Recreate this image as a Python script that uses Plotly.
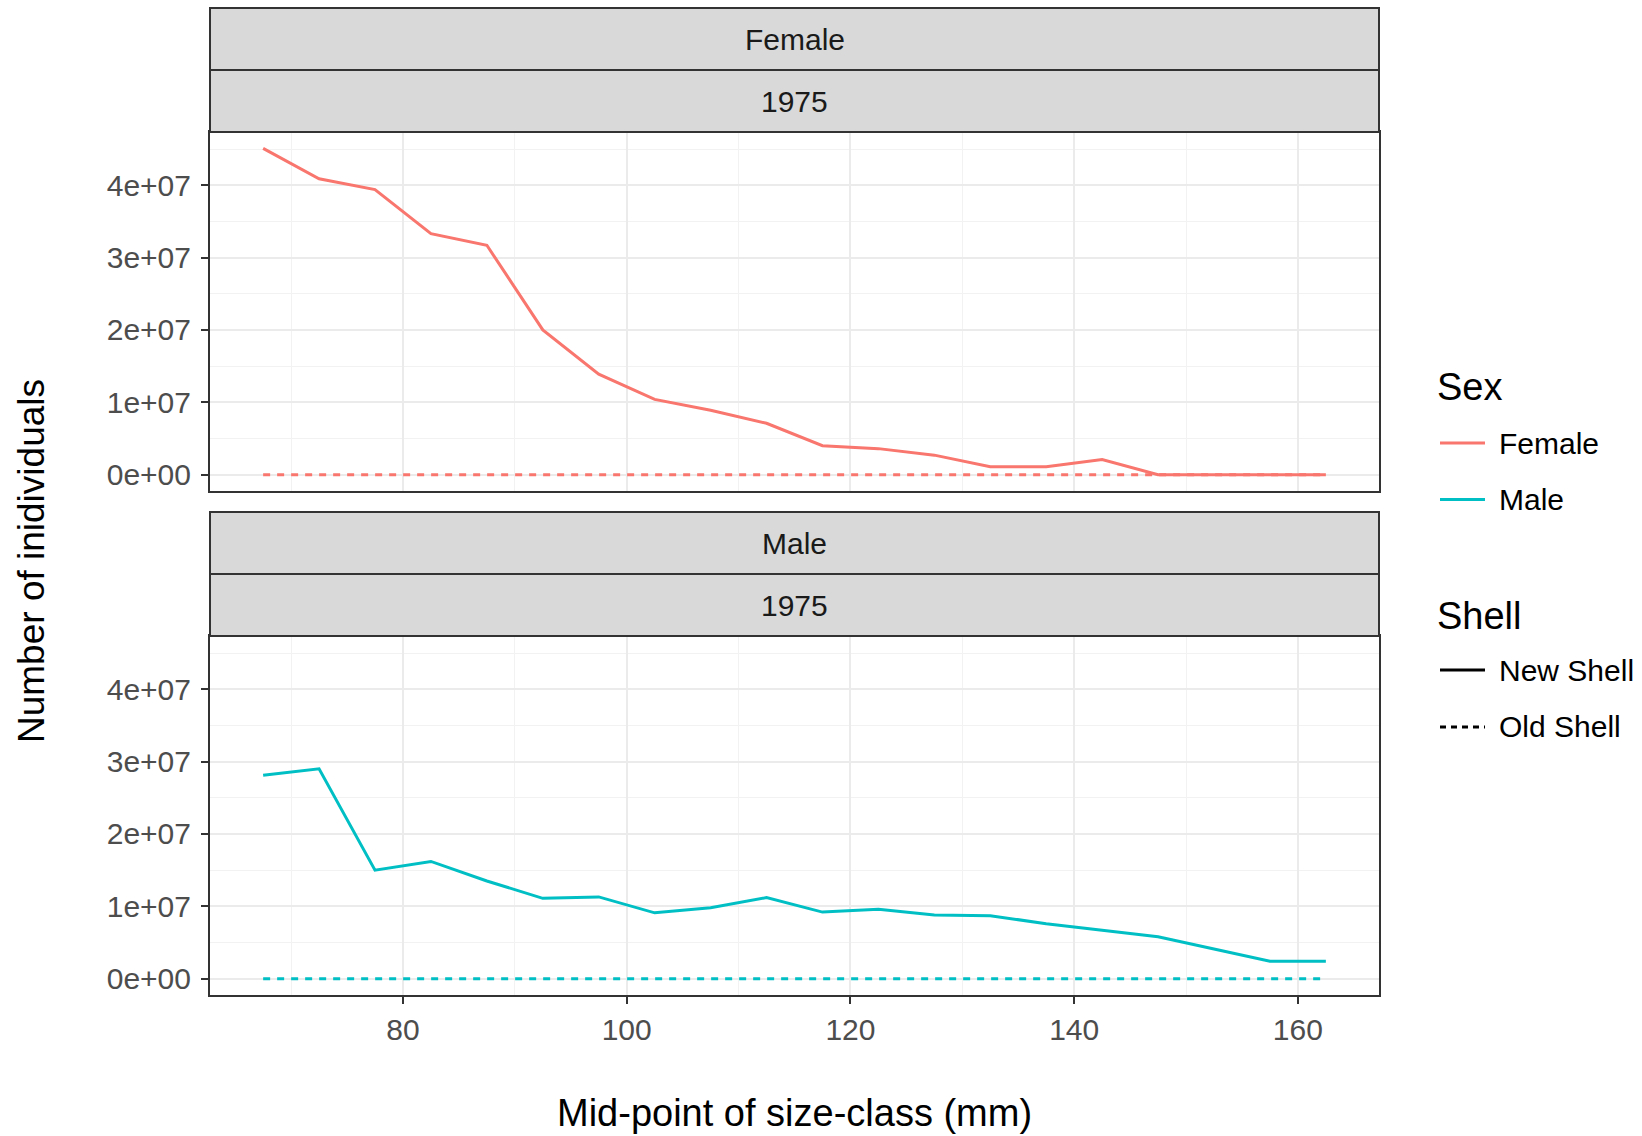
import plotly.graph_objects as go

# ---- data ----
size_mid = [67.5, 72.5, 77.5, 82.5, 87.5, 92.5, 97.5, 102.5, 107.5, 112.5,
            117.5, 122.5, 127.5, 132.5, 137.5, 142.5, 147.5, 152.5, 157.5, 162.5]
female_new = [4.51e7, 4.09e7, 3.94e7, 3.33e7, 3.17e7, 2.00e7, 1.39e7, 1.04e7, 0.89e7, 0.71e7,
              0.40e7, 0.36e7, 0.27e7, 0.11e7, 0.11e7, 0.21e7, 0.0, 0.0, 0.0, 0.0]
female_old = [0.0] * 20
male_new = [2.81e7, 2.90e7, 1.50e7, 1.62e7, 1.35e7, 1.11e7, 1.13e7, 0.91e7, 0.98e7, 1.12e7,
            0.92e7, 0.96e7, 0.88e7, 0.87e7, 0.76e7, 0.67e7, 0.58e7, 0.41e7, 0.24e7, 0.24e7]
male_old = [0.0] * 20
y_tickvals = [0, 1e7, 2e7, 3e7, 4e7]
y_ticktext = ["0e+00", "1e+07", "2e+07", "3e+07", "4e+07"]
x_tickvals = [80, 100, 120, 140, 160]
sexes = ["Female", "Male"]
year_label = "1975"
shells = ["New Shell", "Old Shell"]

COL = {"Female": "#F8766D", "Male": "#00BFC4"}
FONT = "Liberation Sans, Arial, Helvetica, sans-serif"

W, H = 1642, 1136
ML, MR, MT, MB = 210, 263, 8, 141
PW, PH = W - ML - MR, H - MT - MB


def px_to_py(y):
    return (H - MB - y) / PH


def px_to_px(x):
    return (x - ML) / PW


fig = go.Figure()

# top panel (Female) -> xaxis2/yaxis2, bottom panel (Male) -> xaxis/yaxis
panels = {"Female": ("x2", "y2", female_new, female_old),
          "Male": ("x", "y", male_new, male_old)}
for sex in sexes:
    xa, ya, new_vals, old_vals = panels[sex]
    fig.add_trace(go.Scatter(x=size_mid, y=old_vals, mode="lines", xaxis=xa, yaxis=ya,
                             line=dict(color=COL[sex], width=3, dash="7px,7px"),
                             showlegend=False, name=f"{sex} Old Shell"))
    fig.add_trace(go.Scatter(x=size_mid, y=new_vals, mode="lines", xaxis=xa, yaxis=ya,
                             line=dict(color=COL[sex], width=3),
                             showlegend=False, name=f"{sex} New Shell"))

yrange = [-2.255e6, 4.7355e7]
xrange = [62.75, 167.25]

common_x = dict(range=xrange, tickvals=x_tickvals, showgrid=True, gridcolor="#EBEBEB",
                gridwidth=2, zeroline=False, showline=True, linecolor="#333333",
                linewidth=2, mirror=True, ticklen=7, tickwidth=2,
                tickcolor="#333333",
                tickfont=dict(family=FONT, size=30, color="#4D4D4D"),
                minor=dict(dtick=10, tick0=0, showgrid=True, gridcolor="#F2F2F2", gridwidth=1))
common_y = dict(range=yrange, tickvals=y_tickvals, ticktext=y_ticktext, showgrid=True,
                gridcolor="#EBEBEB", gridwidth=2, zeroline=False, showline=True,
                linecolor="#333333", linewidth=2, mirror=True, ticks="outside",
                ticklen=7, tickwidth=2, tickcolor="#333333", ticklabelstandoff=4,
                tickfont=dict(family=FONT, size=30, color="#4D4D4D"),
                minor=dict(dtick=5e6, tick0=0, showgrid=True, gridcolor="#F2F2F2", gridwidth=1))

top_dom = [px_to_py(491), px_to_py(132)]
bot_dom = [0, px_to_py(636)]

fig.update_layout(
    width=W, height=H,
    margin=dict(l=ML, r=MR, t=MT, b=MB),
    paper_bgcolor="white", plot_bgcolor="white",
    font=dict(family=FONT, color="#000000"),
    xaxis=dict(domain=[0, 1], anchor="y", ticks="outside", **common_x),
    yaxis=dict(domain=bot_dom, anchor="x", **common_y),
    xaxis2=dict(domain=[0, 1], anchor="y2", ticks="", showticklabels=False, matches="x",
                **common_x),
    yaxis2=dict(domain=top_dom, anchor="x2", **common_y),
)

shapes = []
annotations = []

# facet strips
strips = [(8, 70, "Female"), (70, 132, year_label), (512, 574, "Male"), (574, 636, year_label)]
for y0, y1, label in strips:
    shapes.append(dict(type="rect", xref="paper", yref="paper", x0=0, x1=1,
                       y0=px_to_py(y1), y1=px_to_py(y0), fillcolor="#D9D9D9",
                       line=dict(color="#333333", width=2), layer="above"))
    annotations.append(dict(text=label, xref="paper", yref="paper", x=0.5,
                            y=px_to_py((y0 + y1) / 2), showarrow=False,
                            xanchor="center", yanchor="middle",
                            font=dict(family=FONT, size=30, color="#1A1A1A")))

# axis titles
annotations.append(dict(text="Mid-point of size-class (mm)", xref="paper", yref="paper",
                        x=0.5, y=px_to_py(1113), showarrow=False, xanchor="center",
                        yanchor="middle", font=dict(family=FONT, size=38, color="#000000")))
annotations.append(dict(text="Number of inidividuals", xref="paper", yref="paper",
                        x=px_to_px(31), y=px_to_py(561), showarrow=False, textangle=-90,
                        xanchor="center", yanchor="middle",
                        font=dict(family=FONT, size=37, color="#000000")))

# legends (drawn manually to match ggplot guide layout)
title_x = px_to_px(1435)
key_x0, key_x1 = px_to_px(1440), px_to_px(1485)
lab_x = px_to_px(1497)

annotations.append(dict(text="Sex", xref="paper", yref="paper", x=title_x, y=px_to_py(387),
                        showarrow=False, xanchor="left", yanchor="middle",
                        font=dict(family=FONT, size=38, color="#000000")))
for sex, yc in zip(sexes, [443, 499.5]):
    shapes.append(dict(type="line", xref="paper", yref="paper", x0=key_x0, x1=key_x1,
                       y0=px_to_py(yc), y1=px_to_py(yc), line=dict(color=COL[sex], width=3)))
    annotations.append(dict(text=sex, xref="paper", yref="paper", x=lab_x, y=px_to_py(yc),
                            showarrow=False, xanchor="left", yanchor="middle",
                            font=dict(family=FONT, size=30, color="#000000")))

annotations.append(dict(text="Shell", xref="paper", yref="paper", x=title_x, y=px_to_py(616),
                        showarrow=False, xanchor="left", yanchor="middle",
                        font=dict(family=FONT, size=38, color="#000000")))
for shell, yc, dash in zip(shells, [670, 727], ["solid", "6px,5px"]):
    shapes.append(dict(type="line", xref="paper", yref="paper", x0=key_x0, x1=key_x1,
                       y0=px_to_py(yc), y1=px_to_py(yc),
                       line=dict(color="#000000", width=3, dash=dash)))
    annotations.append(dict(text=shell, xref="paper", yref="paper", x=lab_x, y=px_to_py(yc),
                            showarrow=False, xanchor="left", yanchor="middle",
                            font=dict(family=FONT, size=30, color="#000000")))

fig.update_layout(shapes=shapes, annotations=annotations)

fig.write_html("out.html")
